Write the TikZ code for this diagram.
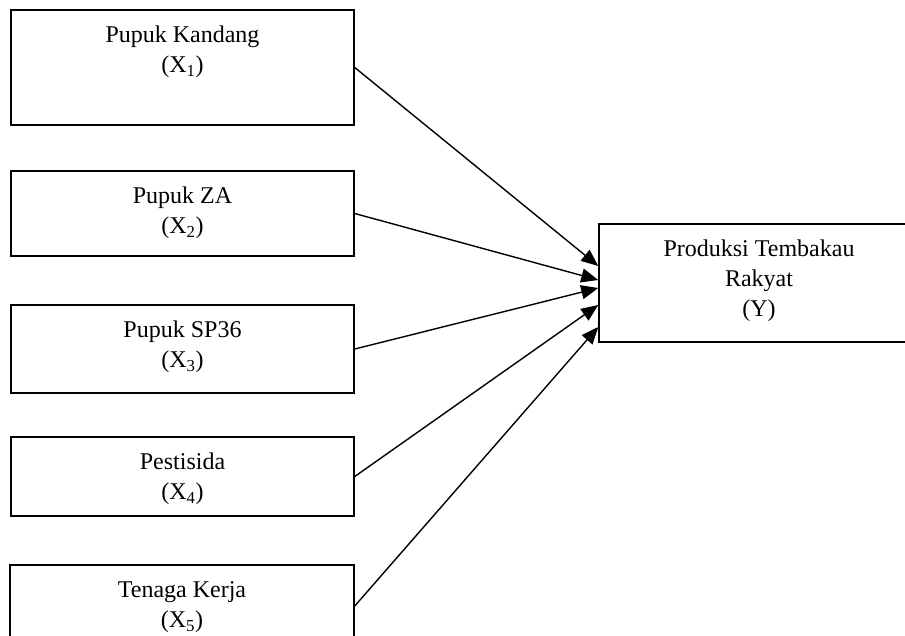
\documentclass[tikz,border=0pt]{standalone}
\usepackage{fontspec}
\setmainfont{Liberation Serif}
\usetikzlibrary{arrows.meta,positioning}

\begin{document}
\begin{tikzpicture}[x=1pt,y=-1pt,
    box/.style={draw,line width=1.5pt,inner sep=0pt,minimum width=343pt},
    lbl/.style={align=center,inner sep=0pt,font=\fontsize{24}{30}\selectfont},
    link/.style={line width=1.4pt,-{Triangle[length=17pt,width=14pt]}}]
  \useasboundingbox (0,0) rectangle (905,635);
  \clip (0,0) rectangle (905,635);
  % ---------- input boxes (X1 ... X5) -------------------------------
  \node[box,minimum height=115pt] (x1) at (182.5,67.5) {};
  \node[box,minimum height=85pt]  (x2) at (182.5,213.5) {};
  \node[box,minimum height=88pt]  (x3) at (182.5,349) {};
  \node[box,minimum height=79pt]  (x4) at (182.5,476.5) {};
  \node[box,minimum height=82pt,minimum width=344pt] (x5) at (182,606) {};
  \node[lbl,below=12pt of x1.north] (t1) {\strut Pupuk Kandang\\(X\textsubscript{1})};
  \node[lbl,below=12pt of x2.north] (t2) {\strut Pupuk ZA\\(X\textsubscript{2})};
  \node[lbl,below=12pt of x3.north] (t3) {\strut Pupuk SP36\\(X\textsubscript{3})};
  \node[lbl,below=12pt of x4.north] (t4) {\strut Pestisida\\(X\textsubscript{4})};
  \node[lbl,below=12pt of x5.north] (t5) {\strut Tenaga Kerja\\(X\textsubscript{5})};
  % ---------- output box (Y) ----------------------------------------
  \node[box,minimum width=320pt,minimum height=118pt] (yv) at (759,283) {};
  \node[lbl,below=12pt of yv.north] (ty) {\strut Produksi Tembakau\\Rakyat\\(Y)};
  % ---------- arrows ------------------------------------------------
  \draw[link] (x1.east) -- ([yshift=17pt]yv.west);
  \draw[link] (x2.east) -- ([yshift=3pt]yv.west);
  \draw[link] (x3.east) -- ([yshift=-5pt]yv.west);
  \draw[link] (x4.east) -- ([yshift=-22pt]yv.west);
  \draw[link] (x5.east) -- ([yshift=-44pt]yv.west);
\end{tikzpicture}
\end{document}
